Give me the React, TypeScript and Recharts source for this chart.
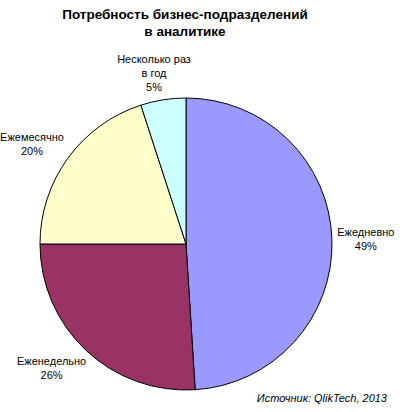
import { PieChart, Pie, Cell } from 'recharts';

const categories = ['Ежедневно', 'Еженедельно', 'Ежемесячно', 'Несколько раз\nв год'];
const shares = [49, 26, 20, 5];
const COLORS = ['#9999FF', '#993366', '#FFFFCC', '#CCFFFF'];

const data = categories.map((name, i) => ({ name, value: shares[i] }));

const FONT = "Arial, 'Liberation Sans', sans-serif";
const RADIAN = Math.PI / 180;
const LINE_H = 14;

const clamp = (v: number) => Math.max(-1, Math.min(1, v));

// excel-ish outside labels: the text block hangs off the edge in the direction of the slice
const renderLabel = (props: any) => {
  const { cx, cy, midAngle, outerRadius, name, value } = props;
  const lines = [...String(name).split('\n'), `${value}%`];
  const dx = Math.cos(-midAngle * RADIAN);
  const dy = Math.sin(-midAngle * RADIAN);
  const px = cx + (outerRadius + 6) * dx;
  const py = cy + (outerRadius + 6) * dy;
  const w = Math.max(...lines.map((l) => l.length)) * 6.2;
  const h = lines.length * LINE_H;
  const bx = px + clamp(dx * 1.3) * (w / 2);
  const by = py + clamp(dy * 1.3) * (h / 2);
  const top = by - h / 2 + LINE_H / 2;
  return (
    <text textAnchor="middle" fontFamily={FONT} fontSize={11} fill="#000">
      {lines.map((l, i) => (
        <tspan key={i} x={bx} y={top + i * LINE_H} dominantBaseline="central">
          {l}
        </tspan>
      ))}
    </text>
  );
};

export default function App() {
  return (
    <div style={{ position: 'absolute', left: 0, top: 0, width: 400, height: 412, background: '#fff' }}>
      <div
        style={{
          position: 'absolute',
          left: 0,
          top: 6,
          width: 370,
          textAlign: 'center',
          fontFamily: FONT,
          fontWeight: 'bold',
          fontSize: 13.5,
          lineHeight: '17px',
          color: '#000',
        }}
      >
        Потребность бизнес-подразделений
        <br />в аналитике
      </div>
      <PieChart width={400} height={412} margin={{ top: 0, right: 0, bottom: 0, left: 0 }}>
        <Pie
          data={data}
          dataKey="value"
          nameKey="name"
          cx={186}
          cy={244}
          outerRadius={146}
          startAngle={90}
          endAngle={-270}
          stroke="#000"
          strokeWidth={1}
          label={renderLabel}
          labelLine={false}
          isAnimationActive={false}
        >
          {data.map((d, i) => (
            <Cell key={d.name} fill={COLORS[i]} />
          ))}
        </Pie>
      </PieChart>
      <div
        style={{
          position: 'absolute',
          right: 13,
          top: 392,
          fontFamily: FONT,
          fontStyle: 'italic',
          fontSize: 11,
          color: '#000',
        }}
      >
        Источник: QlikTech, 2013
      </div>
    </div>
  );
}
